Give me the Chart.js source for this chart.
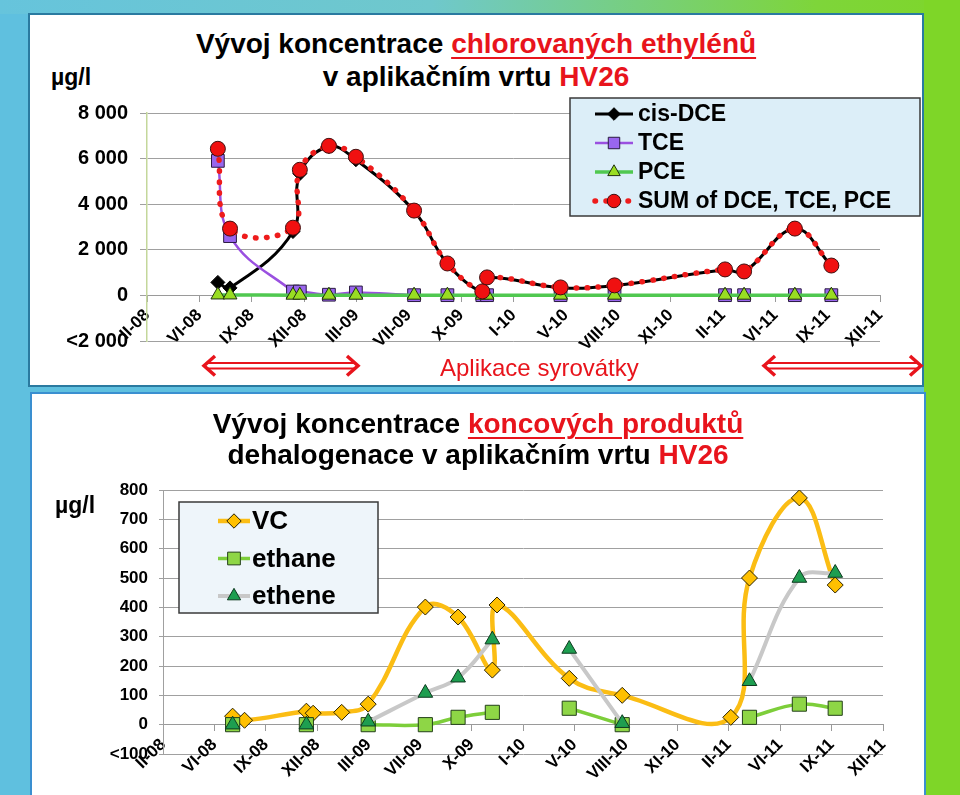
<!DOCTYPE html>
<html>
<head>
<meta charset="utf-8">
<script src="https://cdn.jsdelivr.net/npm/chart.js@4.4.1/dist/chart.umd.min.js"></script>
<style>
    html, body { margin: 0; padding: 0; }
    body {
        width: 960px; height: 795px; position: relative; overflow: hidden;
        background: #5fc0df;
        font-family: 'Liberation Sans', Arial, sans-serif;
    }
    #topStrip {
        position: absolute; left: 0; top: 0; width: 960px; height: 14px;
        background: linear-gradient(to right, #66c4dc 0%, #6fc8cc 45%, #7ed53a 85%, #7ed62a 100%);
    }
    #rightStrip { position: absolute; left: 924px; top: 0; width: 36px; height: 795px; background: #7ed628; }
    .panel { position: absolute; background: #fff; box-sizing: border-box; }
    #panelTop { left: 28px; top: 13px; width: 896px; height: 374px; border: 2px solid #2a7aa0; }
    #panelBottom { left: 30px; top: 392px; width: 896px; height: 406px; border: 2px solid #3a8fd0; }
    canvas { position: absolute; }
    .title {
        position: absolute; text-align: center; font-weight: bold; font-size: 28px;
        color: #000; white-space: nowrap;
    }
    .red { color: #e8141c; }
    .ul { text-decoration: underline; text-decoration-thickness: 2px; text-underline-offset: 4px; }
    .unit { position: absolute; font-weight: bold; font-size: 23px; line-height: 23px; }
    #aplikace { position: absolute; left: 440px; top: 356px; font-size: 24px; line-height: 24px; color: #e8141c; }
    svg { position: absolute; left: 0; top: 0; }
</style>
</head>
<body>
<div id="topStrip"></div>
<div id="rightStrip"></div>
<div class="panel" id="panelTop"></div>
<div class="panel" id="panelBottom"></div>

<div class="title" style="left:28px; width:896px; top:27px; line-height:33px;">
    Vývoj koncentrace <span class="red ul">chlorovaných ethylénů</span><br>
    v aplikačním vrtu <span class="red">HV26</span>
</div>
<div class="unit" style="left:51px; top:66px;">µg/l</div>
<canvas id="chlorChart" style="left:30px; top:15px;" width="891" height="370"></canvas>
<div id="aplikace">Aplikace syrovátky</div>
<svg width="960" height="795">
    <g stroke="#e8141c" fill="none">
        <line x1="206" y1="363" x2="356" y2="363" stroke-width="2"/>
        <line x1="206" y1="368.5" x2="356" y2="368.5" stroke-width="2"/>
        <polyline points="215,356 204,365.7 215,375.5" stroke-width="3.5"/>
        <polyline points="347,356 358,365.7 347,375.5" stroke-width="3.5"/>
        <line x1="766" y1="363" x2="918" y2="363" stroke-width="2"/>
        <line x1="766" y1="368.5" x2="918" y2="368.5" stroke-width="2"/>
        <polyline points="775,356 764,365.7 775,375.5" stroke-width="3.5"/>
        <polyline points="910,356 921,365.7 910,375.5" stroke-width="3.5"/>
    </g>
</svg>

<div class="title" style="left:30px; width:896px; top:408px; line-height:31px;">
    Vývoj koncentrace <span class="red ul">koncových produktů</span><br>
    dehalogenace v aplikačním vrtu <span class="red">HV26</span>
</div>
<div class="unit" style="left:55px; top:494px;">µg/l</div>
<canvas id="productChart" style="left:32px; top:394px;" width="891" height="401"></canvas>

<script>
// sampling dates (same for both charts)
const sampleDates = [
    '2008-07-12', '2008-08-04', '2008-12-01', '2008-12-14',
    '2009-02-07', '2009-03-30', '2009-07-18', '2009-09-19',
    '2009-11-24', '2009-12-03', '2010-04-21', '2010-08-01',
    '2011-02-26', '2011-04-03', '2011-07-08', '2011-09-15'
];
const axisStart = '2008-02-29';
const tickStepDays = 99;
const xTickLabels = ['II-08', 'VI-08', 'IX-08', 'XII-08', 'III-09', 'VII-09', 'X-09', 'I-10',
    'V-10', 'VIII-10', 'XI-10', 'II-11', 'VI-11', 'IX-11', 'XII-11'];

// chlorinated ethylenes, ug/l
const cisDCE = [570, 330, 2800, 5340, 6530, 5950, 3700, 1390, 160, 780, 340, 430, 1130, 1040, 2920, 1300];
const TCE = [5900, 2600, 170, 170, 30, 130, 10, 10, 10, 10, 10, 10, 10, 10, 10, 10];
const PCE = [20, 20, 10, 10, 10, 10, 10, 10, 10, 10, 10, 10, 10, 10, 10, 10];
const sumCE = [6430, 2930, 2970, 5510, 6560, 6080, 3720, 1400, 175, 790, 350, 440, 1140, 1050, 2930, 1310];
const topYLabels = ['<2 000', '0', '2 000', '4 000', '6 000', '8 000'];

// dehalogenation end products, ug/l
const VC = [29, 15, 46, 39, 42, 70, 401, 367, 186, 408, 158, 100, 25, 500, 773, 476];
const ethane = [0, null, 0, null, null, 0, 0, 25, 42, null, 56, 0, null, 25, 70, 56];
const ethene = [0, null, 0, null, null, 10, 108, 160, 290, null, 258, 5, null, 148, 500, 517];
const bottomYLabels = ['<100', '0', '100', '200', '300', '400', '500', '600', '700', '800'];

const fontFamily = "'Liberation Sans', Arial, sans-serif";
const dayOf = d => (Date.parse(d) - Date.parse(axisStart)) / 86400000;
const xs = sampleDates.map(dayOf);
const pts = vals => vals.map((v, i) => ({x: xs[i], y: v}));

function drawMarker(ctx, style, x, y, r, fill, stroke) {
    ctx.beginPath();
    if (style === 'rectRot') {
        ctx.moveTo(x, y - r); ctx.lineTo(x + r, y); ctx.lineTo(x, y + r); ctx.lineTo(x - r, y);
    } else if (style === 'rect') {
        const s = r * Math.SQRT1_2;
        ctx.rect(x - s, y - s, 2 * s, 2 * s);
    } else if (style === 'triangle') {
        for (let k = 0; k < 3; k++) {
            const a = k * 2 * Math.PI / 3;
            const px = x + Math.sin(a) * r, py = y - Math.cos(a) * r;
            k ? ctx.lineTo(px, py) : ctx.moveTo(px, py);
        }
    } else {
        ctx.arc(x, y, r, 0, Math.PI * 2);
    }
    ctx.closePath();
    ctx.fillStyle = fill; ctx.fill();
    ctx.lineWidth = 1; ctx.strokeStyle = stroke; ctx.stroke();
}

// legend box drawn over the plot, like the Excel one
const boxLegend = {
    id: 'boxLegend',
    afterDraw(chart, args, o) {
        const ctx = chart.ctx;
        ctx.save();
        ctx.fillStyle = o.fill;
        ctx.fillRect(o.x, o.y, o.w, o.h);
        ctx.strokeStyle = '#3a3a3a';
        ctx.lineWidth = 1.5;
        ctx.strokeRect(o.x, o.y, o.w, o.h);
        o.items.forEach((idx, row) => {
            const ds = chart.data.datasets[idx];
            const cy = o.y + o.first + row * o.rowH;
            ctx.beginPath();
            ctx.setLineDash(ds.borderDash || []);
            ctx.lineCap = ds.borderCapStyle || 'butt';
            ctx.strokeStyle = ds.borderColor;
            ctx.lineWidth = ds.borderWidth;
            ctx.moveTo(o.lineX0, cy);
            ctx.lineTo(o.lineX1, cy);
            ctx.stroke();
            ctx.setLineDash([]);
            drawMarker(ctx, ds.pointStyle, (o.lineX0 + o.lineX1) / 2, cy, ds.pointRadius * 0.9,
                ds.pointBackgroundColor, ds.pointBorderColor);
            ctx.fillStyle = '#000';
            ctx.font = 'bold ' + o.fontSize + 'px ' + fontFamily;
            ctx.textBaseline = 'middle';
            ctx.fillText(ds.label, o.textX, cy + 1);
        });
        ctx.restore();
    }
};

function xScale(fontSize) {
    return {
        type: 'linear',
        position: {y: 0},
        min: 0,
        max: 14 * tickStepDays,
        afterBuildTicks: s => { s.ticks = xTickLabels.map((_, i) => ({value: i * tickStepDays})); },
        afterFit: s => { s.height = 0; s.paddingLeft = 0; s.paddingRight = 0; },
        ticks: {
            autoSkip: false, maxRotation: 45, minRotation: 45, padding: 4, color: '#000',
            font: {family: fontFamily, size: fontSize, weight: 'bold'},
            callback: (v, i) => xTickLabels[i]
        },
        grid: {drawOnChartArea: false, drawTicks: true, tickLength: 6, color: '#9a9a9a'},
        border: {display: true, color: '#9a9a9a', width: 1}
    };
}

// top chart
new Chart(document.getElementById('chlorChart'), {
    type: 'line',
    data: {
        datasets: [{
            label: 'cis-DCE',
            data: pts(cisDCE),
            borderColor: '#000000',
            borderWidth: 3,
            pointStyle: 'rectRot',
            pointRadius: 7,
            pointBorderWidth: 1,
            pointBackgroundColor: '#000000',
            pointBorderColor: '#000000',
            tension: 0.4,
            order: 3
        }, {
            label: 'TCE',
            data: pts(TCE),
            borderColor: '#9a50e0',
            borderWidth: 2.5,
            pointStyle: 'rect',
            pointRadius: 9,
            pointBorderWidth: 1,
            pointBackgroundColor: '#9966ee',
            pointBorderColor: '#2a1a40',
            tension: 0.4,
            order: 2
        }, {
            label: 'PCE',
            data: pts(PCE),
            borderColor: '#50c850',
            borderWidth: 3.5,
            pointStyle: 'triangle',
            pointRadius: 8,
            pointBorderWidth: 1,
            pointBackgroundColor: '#99dd22',
            pointBorderColor: '#203010',
            tension: 0.4,
            order: 1
        }, {
            label: 'SUM of DCE, TCE, PCE',
            data: pts(sumCE),
            borderColor: '#ee1c1c',
            borderWidth: 5.5,
            borderDash: [0.5, 10.5],
            borderCapStyle: 'round',
            pointStyle: 'circle',
            pointRadius: 7.5,
            pointBorderWidth: 1,
            pointBackgroundColor: '#f01010',
            pointBorderColor: '#401010',
            tension: 0.4,
            order: 0
        }]
    },
    options: {
        responsive: false,
        animation: false,
        layout: {padding: {left: 0, right: 41, top: 98, bottom: 44}},
        plugins: {
            legend: {display: false},
            tooltip: {enabled: false},
            boxLegend: {
                x: 540, y: 83, w: 350, h: 118, fill: '#dceef8',
                first: 16, rowH: 29, lineX0: 565, lineX1: 603, textX: 608, fontSize: 23,
                items: [0, 1, 2, 3]
            }
        },
        scales: {
            x: xScale(17),
            y: {
                min: -2000,
                max: 8000,
                afterFit: s => { s.width = 117; },
                ticks: {
                    stepSize: 2000, padding: 12, color: '#000',
                    font: {family: fontFamily, size: 20, weight: 'bold'},
                    callback: (v, i) => topYLabels[i]
                },
                grid: {color: '#a0a0a0', tickLength: 7},
                border: {color: '#c4d79b', width: 1.5}
            }
        }
    },
    plugins: [boxLegend]
});

// bottom chart
new Chart(document.getElementById('productChart'), {
    type: 'line',
    data: {
        datasets: [{
            label: 'VC',
            data: pts(VC),
            borderColor: '#fbbd14',
            borderWidth: 4.5,
            pointStyle: 'rectRot',
            pointRadius: 8,
            pointBorderWidth: 1,
            pointBackgroundColor: '#ffc000',
            pointBorderColor: '#2a2200',
            tension: 0.4,
            order: 2
        }, {
            label: 'ethane',
            data: pts(ethane),
            borderColor: '#7dce3a',
            borderWidth: 3.5,
            pointStyle: 'rect',
            pointRadius: 10,
            pointBorderWidth: 1,
            pointBackgroundColor: '#8ed646',
            pointBorderColor: '#24401a',
            spanGaps: false,
            tension: 0.4,
            order: 1
        }, {
            label: 'ethene',
            data: pts(ethene),
            borderColor: '#c8c8c8',
            borderWidth: 4,
            pointStyle: 'triangle',
            pointRadius: 8.5,
            pointBorderWidth: 1,
            pointBackgroundColor: '#1e9e50',
            pointBorderColor: '#0d3a1f',
            spanGaps: false,
            tension: 0.4,
            order: 0
        }]
    },
    options: {
        responsive: false,
        animation: false,
        layout: {padding: {left: 0, right: 40, top: 96, bottom: 41}},
        plugins: {
            legend: {display: false},
            tooltip: {enabled: false},
            boxLegend: {
                x: 147, y: 108, w: 199, h: 111, fill: '#eef5fa',
                first: 19, rowH: 37.5, lineX0: 186, lineX1: 218, textX: 220, fontSize: 26,
                items: [0, 1, 2]
            }
        },
        scales: {
            x: xScale(17),
            y: {
                min: -100,
                max: 800,
                afterFit: s => { s.width = 131; },
                ticks: {
                    stepSize: 100, padding: 11, color: '#000',
                    font: {family: fontFamily, size: 17, weight: 'bold'},
                    callback: (v, i) => bottomYLabels[i]
                },
                grid: {color: '#a0a0a0', tickLength: 4},
                border: {color: '#a0a0a0', width: 1}
            }
        }
    },
    plugins: [boxLegend]
});
</script>
</body>
</html>
